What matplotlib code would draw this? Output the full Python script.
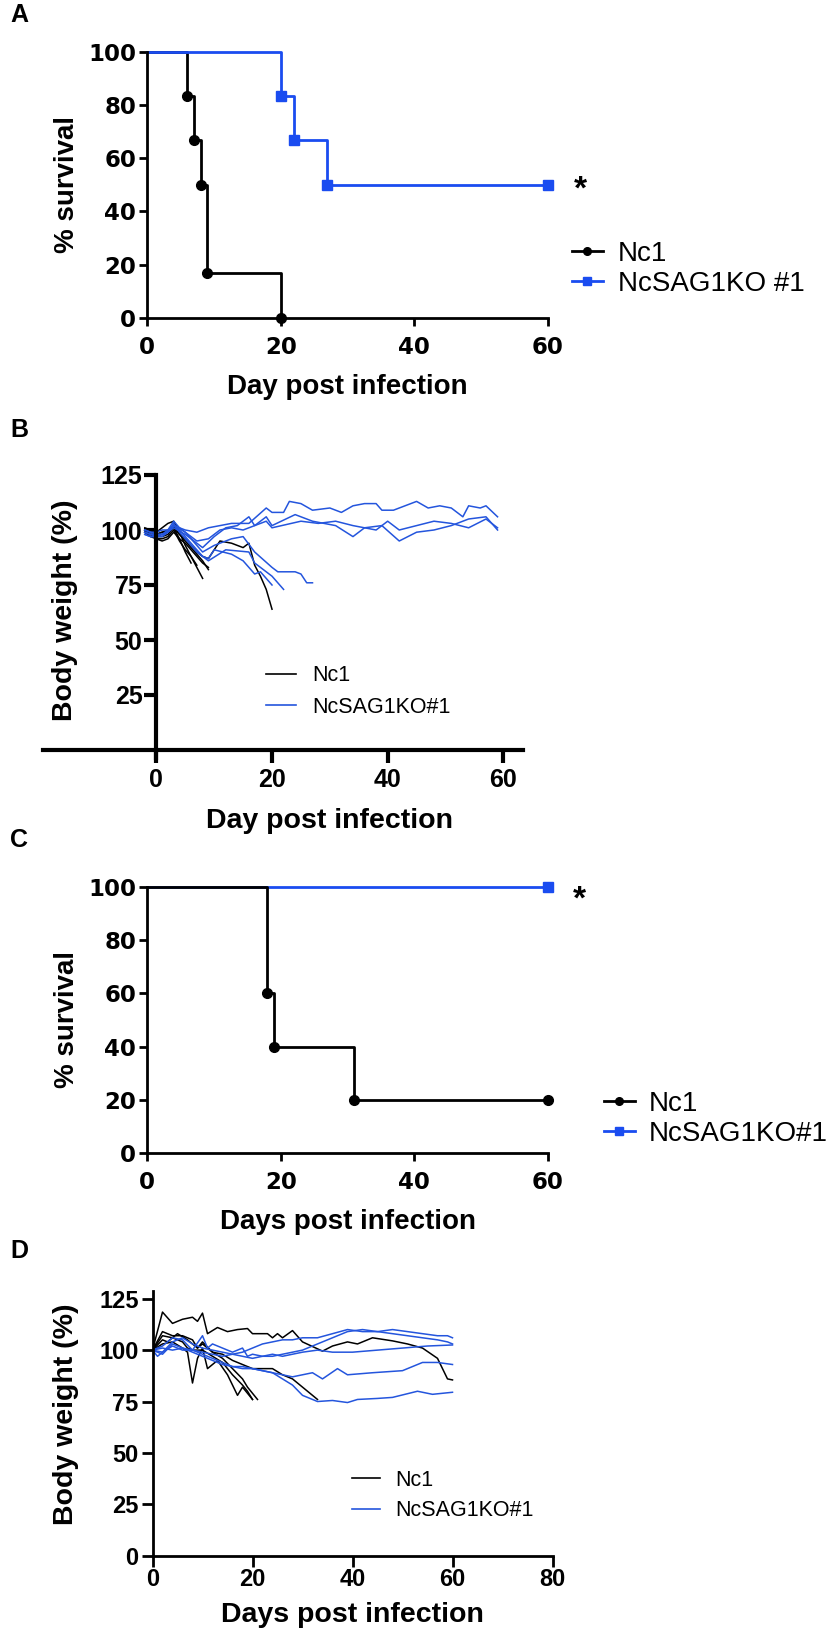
import matplotlib
matplotlib.use('Agg')
import matplotlib.pyplot as plt
from matplotlib.lines import Line2D

plt.rcParams['font.family'] = ['Liberation Sans', 'DejaVu Sans']
plt.rcParams['font.weight'] = 'bold'
plt.rcParams['axes.labelweight'] = 'bold'

BLACK = 'black'
BLUE = '#1a4cf0'
BLUE_THIN = '#2455dd'

# ---- A: survival, experiment 1 ----
a_nc1_days = [0, 6, 7, 8, 9, 20]
a_nc1_surv = [100, 83.3, 66.7, 50, 16.7, 0]
a_ko_days = [0, 20, 22, 27, 60]
a_ko_surv = [100, 83.3, 66.7, 50, 50]

# ---- B: body weight, experiment 1 ----
b_nc1_days = [
    [-2, -1, 0, 1, 2, 3, 4, 5, 6],
    [-2, -1, 0, 1, 2, 3, 4, 5, 6, 7],
    [-2, -1, 0, 1, 2, 3, 4, 5, 6, 7, 8],
    [-2, -1, 0, 1, 2, 3, 4, 5, 6, 7, 8, 9],
    [-2, -1, 0, 1, 2, 3, 4, 5, 6, 7, 8, 9],
    [-2, -1, 0, 1, 2, 3, 4, 5, 6, 7, 8, 9, 11, 13, 15, 16, 17, 18, 19, 20],
]
b_nc1_weight = [
    [100, 98, 97, 97, 98, 101, 96, 90, 85],
    [99, 97, 96, 96, 97, 100, 95, 91, 88, 84],
    [101, 100, 99, 101, 103, 104, 99, 93, 88, 83, 78],
    [100, 99, 98, 99, 99, 102, 98, 95, 92, 89, 86, 82],
    [99, 98, 96, 95, 96, 99, 96, 94, 91, 88, 85, 83],
    [100, 99, 98, 99, 100, 101, 98, 96, 93, 90, 88, 87, 95, 94, 92, 94, 84, 79, 73, 64],
]
b_ko_days = [
    [-2, -1, 0, 1, 2, 3, 4, 5, 6, 7, 8, 9, 10, 13, 15, 17, 18, 20],
    [-2, -1, 0, 1, 2, 3, 4, 5, 6, 7, 8, 9, 12, 16, 17, 20, 22],
    [-2, -1, 0, 1, 2, 3, 4, 5, 6, 7, 8, 10, 13, 15, 17, 20, 21, 24, 25, 26, 27],
    [-2, -1, 0, 1, 2, 3, 5, 7, 9, 11, 13, 16, 19, 20, 22, 23, 25, 27, 30, 32, 34,
     36, 38, 39, 41, 43, 45, 47, 49, 51, 53, 54, 56, 57, 59],
    [-2, -1, 0, 1, 2, 3, 5, 7, 8, 10, 12, 14, 16, 17, 19, 20, 24, 27, 31, 34, 36,
     39, 42, 45, 48, 51, 54, 57, 59],
    [-2, -1, 0, 1, 2, 3, 5, 7, 9, 11, 13, 15, 17, 19, 20, 25, 28, 31, 34, 38, 40,
     42, 45, 48, 51, 54, 57, 59],
]
b_ko_weight = [
    [99, 98, 97, 98, 99, 103, 99, 96, 93, 90, 88, 87, 91, 89, 86, 80, 81, 75],
    [100, 99, 98, 98, 99, 102, 100, 97, 94, 91, 88, 86, 91, 90, 85, 79, 73],
    [98, 97, 97, 98, 100, 104, 101, 99, 96, 93, 90, 93, 96, 97, 90, 83, 81, 81, 80, 76, 76],
    [100, 99, 99, 100, 100, 102, 100, 99, 101, 102, 103, 103, 110, 108, 108, 113, 112,
     109, 110, 108, 111, 112, 112, 109, 109, 111, 113, 110, 111, 110, 106, 111, 110, 111, 106],
    [99, 98, 98, 98, 99, 101, 98, 94, 92, 97, 101, 102, 106, 102, 106, 102, 107, 104,
     102, 97, 101, 102, 95, 99, 100, 102, 105, 106, 100],
    [98, 97, 97, 97, 99, 102, 99, 95, 96, 100, 101, 100, 102, 104, 101, 104, 103, 104,
     102, 100, 104, 100, 102, 104, 103, 101, 105, 101],
]

# ---- C: survival, experiment 2 ----
c_nc1_days = [0, 18, 19, 31, 60]
c_nc1_surv = [100, 60, 40, 20, 20]
c_ko_days = [0, 60]
c_ko_surv = [100, 100]

# ---- D: body weight, experiment 2 ----
d_nc1_days = [
    [0, 2, 4, 6, 8, 9, 10, 11, 13, 15, 17, 19, 20, 23, 24, 25, 26, 28, 30, 34, 36, 39,
     41, 44, 48, 51, 54, 57, 59, 60],
    [0, 2, 4, 6, 8, 9, 10, 12, 14, 16, 18, 20, 22, 24, 26, 28, 30, 33],
    [0, 2, 3, 5, 7, 9, 10, 12, 14, 16, 18, 19, 21],
    [0, 2, 4, 6, 7, 8, 9, 10, 11, 13, 15, 17, 18, 20],
    [0, 2, 4, 6, 7, 8, 10, 12, 14, 16, 18, 19, 20],
]
d_nc1_weight = [
    [100, 118.5, 113, 115, 116, 114, 118, 108, 111, 109, 110, 110.5, 108, 108, 106, 108,
     106, 109.5, 104, 99.5, 102, 104, 103, 106, 104.5, 103, 101, 96, 86, 85.5],
    [100, 109, 107, 107, 105, 101, 103, 99, 98, 95, 93, 91, 91, 91, 88, 86, 82, 76],
    [100, 105, 104, 108, 105, 101, 104, 99, 96, 91, 86, 82, 76],
    [100, 103, 104, 101, 99, 84, 96, 101, 91, 95, 88, 78, 82, 76],
    [100, 107, 106, 104, 101, 100, 100, 97, 94, 88, 83, 80, 76],
]
d_ko_days = [
    [0, 2, 4, 6, 8, 10, 12, 14, 16, 18, 20, 22, 24, 26, 28, 30, 33, 36, 39, 42, 45, 48,
     51, 54, 57, 59, 60],
    [0, 2, 4, 6, 8, 10, 12, 14, 16, 18, 20, 22, 24, 26, 28, 30, 33, 36, 39, 42, 45, 48,
     51, 54, 57, 59, 60],
    [0, 2, 4, 6, 8, 10, 11, 12, 14, 16, 18, 19, 20, 22, 24, 26, 28, 30, 33, 36, 40, 45,
     50, 55, 60],
    [0, 2, 4, 6, 8, 10, 12, 14, 16, 18, 20, 22, 24, 26, 28, 30, 32, 34, 37, 39, 44, 50,
     54, 57, 60],
    [0, 1, 2, 4, 6, 8, 10, 12, 14, 16, 18, 20, 22, 24, 26, 28, 30, 33, 36, 39, 41, 45,
     48, 53, 56, 58, 60],
]
d_ko_weight = [
    [100, 99, 104, 106, 103, 101, 100, 99, 98, 99, 101, 103, 104, 105, 105, 106, 106,
     108, 110, 109, 109, 110, 109, 108, 107, 107, 106],
    [100, 102, 106, 105, 100, 99, 98, 97, 98, 97, 96, 97, 97, 98, 99, 100, 103, 106,
     109, 110, 109, 108, 107, 106, 105, 104, 103],
    [100, 101, 100, 101, 100, 107, 101, 103, 101, 99, 101, 97, 98, 97, 98, 97, 98, 99,
     100, 99, 99, 100, 101, 102, 102.5],
    [100, 98, 103, 101, 99, 97, 95, 93, 92, 92, 91, 90, 89, 88, 87, 88, 89, 86, 91, 88,
     89, 90, 94, 94, 93],
    [100, 97, 99, 102, 100, 100, 98, 96, 94, 92, 91, 91, 90, 89, 86, 83, 78, 75, 75.5,
     74.5, 76, 76.5, 77, 80, 78.5, 79, 79.5],
]

W, H = 839, 1647
fig = plt.figure(figsize=(W / 100, H / 100), dpi=100)


def axes_px(left, right, top, bottom):
    return fig.add_axes([left / W, 1 - bottom / H, (right - left) / W, (bottom - top) / H])


def style(ax, lw, ticklen, size, xpad, ypad, family=None):
    ax.spines['top'].set_visible(False)
    ax.spines['right'].set_visible(False)
    for s in ('left', 'bottom'):
        ax.spines[s].set_linewidth(lw)
    ax.tick_params(width=lw, length=ticklen, labelsize=size)
    ax.tick_params(axis='x', pad=xpad)
    ax.tick_params(axis='y', pad=ypad)
    if family:
        for lbl in ax.get_xticklabels() + ax.get_yticklabels():
            lbl.set_family(family)


def survival_legend(ax, labels, x, y, hl, tp):
    h = [Line2D([], [], color=BLACK, marker='o', ms=5.5, lw=2),
         Line2D([], [], color=BLUE, marker='s', ms=5.5, lw=2)]
    ax.legend(h, labels, loc='center left', bbox_to_anchor=(x / W, 1 - y / H),
              bbox_transform=fig.transFigure, frameon=False, borderpad=0,
              borderaxespad=0, handlelength=hl, handletextpad=tp, labelspacing=0.15,
              prop={'size': 20, 'weight': 'normal'})


def weight_legend(ax, labels, x, y, hl, tp, ls):
    h = [Line2D([], [], color=BLACK, lw=1.2), Line2D([], [], color=BLUE_THIN, lw=1.2)]
    ax.legend(h, labels, loc='center left', bbox_to_anchor=(x / W, 1 - y / H),
              bbox_transform=fig.transFigure, frameon=False, borderpad=0,
              borderaxespad=0, handlelength=hl, handletextpad=tp, labelspacing=ls,
              prop={'size': 15.5, 'weight': 'normal'})


# ---------------- panel A ----------------
ax = axes_px(147.3, 547.7, 51.7, 317.7)
ax.step(a_nc1_days, a_nc1_surv, where='post', color=BLACK, lw=2, clip_on=False)
ax.plot(a_nc1_days[1:], a_nc1_surv[1:], 'o', color=BLACK, ms=7, clip_on=False)
ax.step(a_ko_days, a_ko_surv, where='post', color=BLUE, lw=2, clip_on=False)
ax.plot(a_ko_days[1:], a_ko_surv[1:], 's', color=BLUE, ms=7, clip_on=False)
ax.set_xlim(0, 60)
ax.set_ylim(0, 100)
ax.set_xticks([0, 20, 40, 60])
ax.set_yticks([0, 20, 40, 60, 80, 100])
style(ax, 2, 6, 16.5, 7, 2, family='DejaVu Sans')
ax.set_xlabel('Day post infection', fontsize=20, va='center')
ax.xaxis.set_label_coords(0.5, -0.259)
ax.set_ylabel('% survival', fontsize=20, va='center')
ax.yaxis.set_label_coords(-0.2, 0.5)
survival_legend(ax, ['Nc1', 'NcSAG1KO #1'], 572, 269, 1.1, 0.55)
fig.text(580 / W, 1 - 199 / H, '*', fontsize=24, ha='center', va='baseline')
fig.text(10 / W, 1 - 3 / H, 'A', fontsize=18, ha='left', va='top')

# ---------------- panel B ----------------
ax = axes_px(43, 523, 475, 757.7)
for d, w in zip(b_nc1_days, b_nc1_weight):
    ax.plot(d, w, color=BLACK, lw=1.1)
for d, w in zip(b_ko_days, b_ko_weight):
    ax.plot(d, w, color=BLUE_THIN, lw=1.1)
ax.set_xlim(-19.6, 63.4)
ax.set_ylim(-3.5, 125)
ax.spines['left'].set_position(('data', 0))
ax.spines['bottom'].set_position(('data', 0))
ax.set_xticks([0, 20, 40, 60])
ax.set_yticks([25, 50, 75, 100, 125])
style(ax, 3, 9, 18, 4, 1)
ax.set_xlabel('Day post infection', fontsize=20.5, va='center')
ax.xaxis.set_label_coords((30 + 19.6) / 83.0, -0.224)
ax.set_ylabel('Body weight (%)', fontsize=20.5, va='center')
ax.yaxis.set_label_coords(0.046, 0.522)
weight_legend(ax, ['Nc1', 'NcSAG1KO#1'], 266, 691.5, 1.4, 0.75, 0.5)
fig.text(10 / W, 1 - 418 / H, 'B', fontsize=18, ha='left', va='top')

# ---------------- panel C ----------------
ax = axes_px(147.3, 547.7, 886.7, 1153.3)
ax.step(c_ko_days, c_ko_surv, where='post', color=BLUE, lw=2, clip_on=False)
ax.plot(c_ko_days[1:], c_ko_surv[1:], 's', color=BLUE, ms=7, clip_on=False)
ax.step(c_nc1_days, c_nc1_surv, where='post', color=BLACK, lw=2, clip_on=False)
ax.plot(c_nc1_days[1:], c_nc1_surv[1:], 'o', color=BLACK, ms=7, clip_on=False)
ax.set_xlim(0, 60)
ax.set_ylim(0, 100)
ax.set_xticks([0, 20, 40, 60])
ax.set_yticks([0, 20, 40, 60, 80, 100])
style(ax, 2, 6, 16.5, 7, 2, family='DejaVu Sans')
ax.set_xlabel('Days post infection', fontsize=20, va='center')
ax.xaxis.set_label_coords(0.5, -0.258)
ax.set_ylabel('% survival', fontsize=20, va='center')
ax.yaxis.set_label_coords(-0.2, 0.5)
survival_legend(ax, ['Nc1', 'NcSAG1KO#1'], 604, 1119, 1.1, 0.5)
fig.text(579 / W, 1 - 909 / H, '*', fontsize=24, ha='center', va='baseline')
fig.text(10 / W, 1 - 828 / H, 'C', fontsize=18, ha='left', va='top')

# ---------------- panel D ----------------
ax = axes_px(152.5, 552.5, 1290.5, 1555.7)
for d, w in zip(d_nc1_days, d_nc1_weight):
    ax.plot(d, w, color=BLACK, lw=1.1)
for d, w in zip(d_ko_days, d_ko_weight):
    ax.plot(d, w, color=BLUE_THIN, lw=1.1)
ax.set_xlim(0, 80)
ax.set_ylim(0, 129)
ax.set_xticks([0, 20, 40, 60, 80])
ax.set_yticks([0, 25, 50, 75, 100, 125])
style(ax, 2, 8, 17, 1, 2)
ax.set_xlabel('Days post infection', fontsize=20.5, va='center')
ax.xaxis.set_label_coords(0.5, -0.224)
ax.set_ylabel('Body weight (%)', fontsize=20.5, va='center')
ax.yaxis.set_label_coords(-0.216, 0.534)
weight_legend(ax, ['Nc1', 'NcSAG1KO#1'], 352, 1495.5, 1.3, 0.7, 0.45)
fig.text(10 / W, 1 - 1239 / H, 'D', fontsize=18, ha='left', va='top')

fig.savefig('out.png', dpi=100, facecolor='white')
